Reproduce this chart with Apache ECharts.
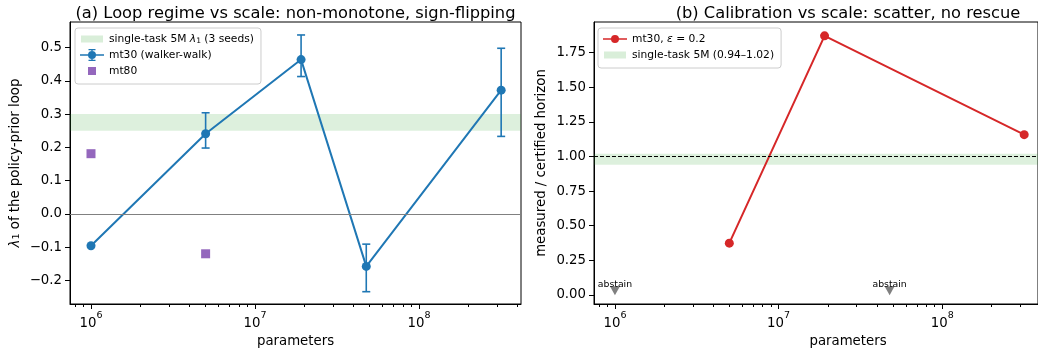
<!DOCTYPE html>
<html><head><meta charset="utf-8">
<script src="https://cdn.jsdelivr.net/npm/echarts@6/dist/echarts.min.js"></script>
<style>html,body{margin:0;padding:0;background:#fff}#c{width:1038px;height:356px}</style>
</head><body><div id="c"></div>
<script>
// ---- data ----
const paramsA = [1.0e6, 5.0e6, 1.91e7, 4.77e7, 3.17e8];
const mt30Lambda = [-0.096, 0.241, 0.464, -0.158, 0.372];
const mt30Lo = [null, 0.198, 0.413, -0.234, 0.233];
const mt30Hi = [null, 0.304, 0.538, -0.091, 0.498];
const paramsMt80 = [1.0e6, 5.0e6];
const mt80Lambda = [0.181, -0.120];
const bandA = [0.25, 0.30];
const zeroLine = 0;

const paramsB = [5.0e6, 1.91e7, 3.17e8];
const ratioB = [0.374, 1.870, 1.157];
const bandB = [0.94, 1.02];
const unityLine = 1.0;
const abstainParams = [1.0e6, 4.77e7];
const abstainY = [0.03, 0.03];

const yTicksA = [-0.2, -0.1, 0.0, 0.1, 0.2, 0.3, 0.4, 0.5];
const yTicksB = [0.0, 0.25, 0.5, 0.75, 1.0, 1.25, 1.5, 1.75];
const xMajorExp = [6, 7, 8];
const xMinor = [];
[5, 6, 7, 8].forEach(e => { for (let m = 2; m <= 9; m++) xMinor.push(Math.log10(m) + e); });

// ---- helpers ----
const L = Math.log10;
const FONT = 'DejaVu Sans';
const FS = 13.3;
const minus = s => s.replace('-', '\u2212');
const BLUE = '#1f77b4', PURPLE = '#9467bd', RED = '#d62728';
const BANDC = 'rgba(44,160,44,0.16)';

// legend icons (24 x 12 box, first two moveTo points fix the box)
const BOX = 'M0,0 M24,12 ';
const ICON_BAND = 'path://' + BOX + 'M1,2.5 L23,2.5 L23,9.5 L1,9.5 Z';
const ICON_SQ = 'path://' + BOX + 'M8,2 L16,2 L16,10 L8,10 Z';
const ICON_LINE_DOT = 'path://' + BOX + 'M0,5.2 L24,5.2 L24,6.8 L0,6.8 Z M16,6 A4,4 0 1,1 8,6 A4,4 0 1,1 16,6 Z';
const ICON_ERR = 'path://' + BOX + 'M0,5.2 L24,5.2 L24,6.8 L0,6.8 Z M11.3,0 L12.7,0 L12.7,12 L11.3,12 Z ' +
  'M8.5,0 L15.5,0 L15.5,1.3 L8.5,1.3 Z M8.5,10.7 L15.5,10.7 L15.5,12 L8.5,12 Z M16,6 A4,4 0 1,1 8,6 A4,4 0 1,1 16,6 Z';

function xAxes(gridIndex, min, max, nameShift) {
  return [{
    type: 'value', gridIndex, min, max,
    name: 'parameters', nameLocation: 'middle', nameGap: 30,
    nameTextStyle: { fontFamily: FONT, fontSize: FS, color: '#000', padding: [0, 0, 0, nameShift * 2] },
    splitLine: { show: false },
    axisLine: { onZero: false, lineStyle: { color: '#000', width: 1 } },
    axisTick: { customValues: xMajorExp, length: 5, lineStyle: { color: '#000' } },
    axisLabel: {
      customValues: xMajorExp, margin: 7, color: '#000', fontFamily: FONT, fontSize: FS,
      formatter: v => '{b|10}{s|' + Math.round(v) + '}',
      rich: { b: { fontFamily: FONT, fontSize: FS, color: '#000', lineHeight: 19, verticalAlign: 'bottom' },
              s: { fontFamily: FONT, fontSize: 9.5, color: '#000', lineHeight: 19, verticalAlign: 'top' } }
    }
  }, {
    type: 'value', gridIndex, min, max, position: 'bottom',
    splitLine: { show: false },
    axisLine: { show: false, onZero: false },
    axisTick: { customValues: xMinor, length: 3, lineStyle: { color: '#000' } },
    axisLabel: { show: false, customValues: xMinor }
  }];
}

function yAxis(gridIndex, min, max, ticks, digits, name, nameGap) {
  return {
    type: 'value', gridIndex, min, max,
    name, nameLocation: 'middle', nameGap,
    nameTextStyle: { fontFamily: FONT, fontSize: FS, color: '#000',
      rich: { i: { fontFamily: FONT, fontStyle: 'italic', fontSize: FS, color: '#000' },
              sub: { fontFamily: FONT, fontSize: 9.5, color: '#000', verticalAlign: 'bottom', lineHeight: 13 } } },
    splitLine: { show: false },
    axisLine: { show: true, onZero: false, lineStyle: { color: '#000', width: 1 } },
    axisTick: { customValues: ticks, length: 5, lineStyle: { color: '#000' } },
    axisLabel: { customValues: ticks, margin: 8, color: '#000', fontFamily: FONT, fontSize: FS,
      formatter: v => minus(v.toFixed(digits)) }
  };
}

function errRender(params, api) {
  const x = api.value(0), lo = api.value(1), hi = api.value(2);
  const a = api.coord([x, lo]), b = api.coord([x, hi]);
  const w = 4;
  const st = { stroke: BLUE, lineWidth: 1.6 };
  return { type: 'group', children: [
    { type: 'line', shape: { x1: a[0], y1: a[1], x2: b[0], y2: b[1] }, style: st },
    { type: 'line', shape: { x1: a[0] - w, y1: a[1], x2: a[0] + w, y2: a[1] }, style: st },
    { type: 'line', shape: { x1: b[0] - w, y1: b[1], x2: b[0] + w, y2: b[1] }, style: st }
  ]};
}

const errData = paramsA.map((p, i) => mt30Lo[i] == null ? null : [L(p), mt30Lo[i], mt30Hi[i]]).filter(d => d);

const legendCommon = {
  orient: 'vertical', itemGap: 4, itemWidth: 24, itemHeight: 12,
  padding: [5, 7, 7, 5], borderColor: '#cccccc', borderWidth: 1, borderRadius: 3,
  backgroundColor: 'rgba(255,255,255,0.8)', inactiveColor: '#000'
};
const legendText = { fontFamily: FONT, fontSize: 10.7, color: '#000',
  rich: { i: { fontFamily: FONT, fontStyle: 'italic', fontSize: 10.7, color: '#000' },
          sub: { fontFamily: FONT, fontSize: 7.6, color: '#000', verticalAlign: 'bottom', lineHeight: 12 } } };

// right panel is cut by the picture's right edge, as in the reference
const GRID_B_W = 445;

const option = {
  animation: false,
  backgroundColor: '#fff',
  textStyle: { fontFamily: FONT },
  title: [
    { text: '(a) Loop regime vs scale: non-monotone, sign-flipping', left: 290.5, top: 1, textAlign: 'center',
      textStyle: { fontFamily: FONT, fontSize: 16.3, fontWeight: 'normal', color: '#000' } },
    { text: '(b) Calibration vs scale: scatter, no rescue', left: 843, top: 1, textAlign: 'center',
      textStyle: { fontFamily: FONT, fontSize: 16.3, fontWeight: 'normal', color: '#000' } }
  ],
  grid: [
    { left: 70, top: 22, width: 451, height: 282, show: true, borderColor: '#000', borderWidth: 1, containLabel: false },
    { left: 594, top: 22, width: GRID_B_W, height: 282, show: true, borderColor: '#000', borderWidth: 1, containLabel: false }
  ],
  legend: [
    Object.assign({ left: 75, top: 28, textStyle: legendText,
      formatter: n => n === 'bandA' ? 'single-task 5M {i|λ}{sub|1} (3 seeds)' : n,
      data: [
        { name: 'bandA', icon: ICON_BAND, itemStyle: { color: 'rgba(44,160,44,0.18)', borderWidth: 0 } },
        { name: 'mt30 (walker-walk)', icon: ICON_ERR, itemStyle: { color: BLUE, borderWidth: 0 } },
        { name: 'mt80', icon: ICON_SQ, itemStyle: { color: PURPLE, borderWidth: 0 } }
      ] }, legendCommon),
    Object.assign({ left: 598, top: 28, textStyle: legendText,
      formatter: n => n === 'redB' ? 'mt30, {i|ε} = 0.2' : (n === 'bandB' ? 'single-task 5M (0.94\u20131.02)' : n),
      data: [
        { name: 'redB', icon: ICON_LINE_DOT, itemStyle: { color: RED, borderWidth: 0 } },
        { name: 'bandB', icon: ICON_BAND, itemStyle: { color: 'rgba(44,160,44,0.18)', borderWidth: 0 } }
      ] }, legendCommon)
  ],
  xAxis: [...xAxes(0, 5.872, 8.622, 0), ...xAxes(1, 5.872, 5.872 + GRID_B_W / 164, 32)],
  yAxis: [
    yAxis(0, -0.271, 0.577, yTicksA, 1, '{i|λ}{sub|1} of the policy-prior loop', 48),
    yAxis(1, -0.065, 1.970, yTicksB, 2, 'measured / certified horizon', 46)
  ],
  series: [
    { name: 'bandA', type: 'line', xAxisIndex: 0, yAxisIndex: 0, data: [], silent: true,
      itemStyle: { color: BANDC },
      markArea: { silent: true, itemStyle: { color: BANDC }, data: [[{ yAxis: bandA[0] }, { yAxis: bandA[1] }]] },
      markLine: { silent: true, symbol: 'none', label: { show: false },
        lineStyle: { color: '#808080', width: 1, type: 'solid' }, data: [{ yAxis: zeroLine }] } },
    { name: 'mt30err', type: 'custom', xAxisIndex: 0, yAxisIndex: 0, renderItem: errRender,
      data: errData, encode: { x: 0, y: [1, 2] }, itemStyle: { color: BLUE }, z: 3 },
    { name: 'mt30 (walker-walk)', type: 'line', xAxisIndex: 0, yAxisIndex: 0,
      data: paramsA.map((p, i) => [L(p), mt30Lambda[i]]),
      symbol: 'circle', symbolSize: 9, showSymbol: true,
      lineStyle: { color: BLUE, width: 2 }, itemStyle: { color: BLUE }, z: 4 },
    { name: 'mt80', type: 'scatter', xAxisIndex: 0, yAxisIndex: 0,
      data: paramsMt80.map((p, i) => [L(p), mt80Lambda[i]]),
      symbol: 'rect', symbolSize: 9, itemStyle: { color: PURPLE, opacity: 1 }, z: 4 },

    { name: 'bandB', type: 'line', xAxisIndex: 2, yAxisIndex: 1, data: [], silent: true,
      itemStyle: { color: BANDC },
      markArea: { silent: true, itemStyle: { color: BANDC }, data: [[{ yAxis: bandB[0] }, { yAxis: bandB[1] }]] },
      markLine: { silent: true, symbol: 'none', label: { show: false },
        lineStyle: { color: '#000', width: 1, type: [4, 2] }, data: [{ yAxis: unityLine }] } },
    { name: 'redB', type: 'line', xAxisIndex: 2, yAxisIndex: 1,
      data: paramsB.map((p, i) => [L(p), ratioB[i]]),
      symbol: 'circle', symbolSize: 9,
      lineStyle: { color: RED, width: 2 }, itemStyle: { color: RED }, z: 4 },
    { name: 'abstain', type: 'scatter', xAxisIndex: 2, yAxisIndex: 1,
      data: abstainParams.map((p, i) => [L(p), abstainY[i]]),
      symbol: 'triangle', symbolRotate: 180, symbolSize: [10, 9], itemStyle: { color: '#808080', opacity: 1 },
      label: { show: true, position: 'top', distance: -3, formatter: 'abstain',
        fontFamily: FONT, fontSize: 9.3, color: '#000' }, z: 4 }
  ]
};
echarts.init(document.getElementById('c'), null, { renderer: 'canvas' }).setOption(option);
</script></body></html>
